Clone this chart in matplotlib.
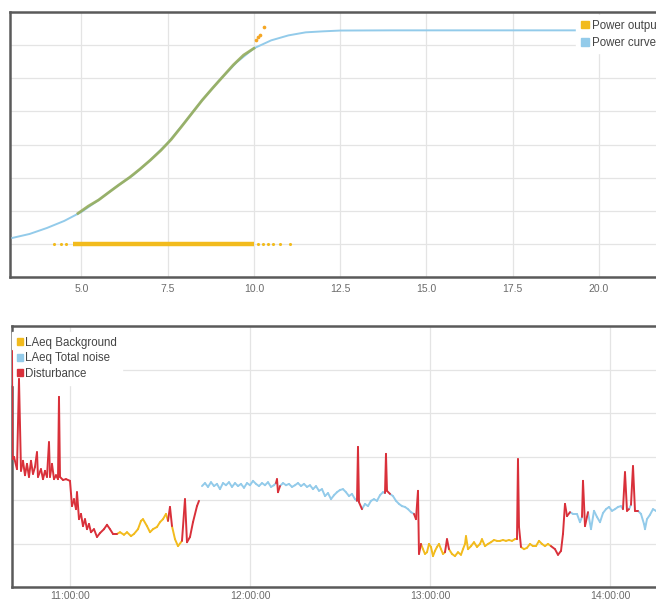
import numpy as np
import matplotlib
matplotlib.use("Agg")
import matplotlib.pyplot as plt
from matplotlib.collections import LineCollection
from matplotlib.patches import Patch

plt.rcParams['font.family'] = ['Liberation Sans', 'DejaVu Sans']

# ---------------- top chart: power curve ----------------
curve_speed = [3.0, 3.5, 4.0, 4.5, 5.0, 5.5, 6.0, 6.5, 7.0, 7.5, 8.0, 8.5, 9.0, 9.5,
               10.0, 10.5, 11.0, 11.5, 12.0, 12.5, 14.0, 16.0, 18.0, 20.0, 22.0]
curve_power = [90, 150, 240, 346, 482, 663, 858, 1039, 1265, 1521, 1837, 2169, 2470, 2741,
               2952, 3072, 3147, 3193, 3208, 3220, 3223, 3223, 3223, 3223, 3223]

output_speed = [4.9, 5.2, 5.5, 5.8, 6.1, 6.4, 6.7, 7.0, 7.3, 7.6, 7.9, 8.2, 8.5, 8.8,
                9.1, 9.4, 9.7, 10.0]
output_power = [460, 570, 663, 780, 895, 1005, 1130, 1265, 1410, 1575, 1770, 1970, 2169, 2350,
                2525, 2700, 2850, 2952]
peak_speed = [10.05, 10.12, 10.18, 10.3]
peak_power = [3080, 3130, 3160, 3270]
zero_band = [4.75, 10.0]
zero_speed = [4.2, 4.4, 4.55, 10.12, 10.27, 10.41, 10.56, 10.76, 11.05]

speed_ticks = [5.0, 7.5, 10.0, 12.5, 15.0, 17.5, 20.0]

# ---------------- bottom chart: noise (time in minutes after 10:00) ----------------
# state: D = Disturbance, B = LAeq Background, T = LAeq Total noise
noise_minutes = [
    40.67, 40.83, 41.33, 42.33, 43.0, 43.67, 44.33, 45.0, 45.67, 46.33, 47.0, 47.67, 48.33, 49.0,
    49.33, 50.33, 51.0, 51.67, 52.33, 53.0, 53.33, 54.0, 54.67, 55.33, 56.0, 56.33, 56.67, 57.67,
    58.67, 60.0, 60.67, 61.33, 62.0, 62.33, 63.0, 63.67, 64.33, 65.0, 65.67, 66.33, 67.0, 68.0,
    69.0, 70.0, 71.33, 72.33, 73.33, 74.33,
    75.67, 76.67, 78.0, 79.0, 80.33, 81.33, 82.67, 83.67, 84.33, 85.67, 86.67, 87.67, 89.0, 90.0,
    91.0, 92.0, 92.67, 93.33, 94.0, 95.0, 96.0, 97.33, 98.33, 99.0, 100.0, 101.0, 102.33, 103.0,
    103.5,
    104.0, 105.0, 106.0, 107.0, 108.0, 109.0, 110.0, 111.0, 112.0, 113.0, 114.0, 115.0, 116.0,
    117.0, 118.0, 119.0, 120.0, 121.0, 122.0, 123.0, 124.0, 125.0, 126.0, 127.0, 128.0, 128.67,
    129.0, 129.33, 130.0, 131.0, 132.0, 133.0, 134.0, 135.0, 136.0, 137.0, 138.0, 139.0, 140.0,
    141.0, 142.0, 143.0, 144.0, 145.0, 146.0, 147.0, 148.0, 149.0, 150.0, 151.0, 152.0, 153.0,
    154.0, 155.0, 155.67, 156.0, 156.33, 157.33, 158.33, 159.33, 160.33, 161.33, 162.33, 163.33,
    164.33, 165.0, 165.33, 165.67, 166.67, 167.67, 168.67, 169.67, 170.67, 171.67, 172.67, 173.67,
    174.67, 175.33, 176.0, 176.33,
    177.0, 177.67, 178.33, 179.0, 179.67, 180.33, 181.0, 181.67, 182.33, 183.0, 183.67, 184.33,
    185.0, 185.67, 186.33, 187.33, 188.33, 189.33, 190.33, 191.0, 191.67, 192.0, 192.67, 193.67,
    194.67, 195.67, 196.67, 197.33, 198.33, 199.33, 200.33, 201.33, 202.33, 203.33, 204.33, 205.33,
    206.33, 207.33, 208.33, 209.0, 209.33, 209.67, 210.33, 211.33, 212.33, 213.33, 214.33, 215.33,
    216.33, 217.33, 218.33, 219.33, 220.33, 221.67, 222.67, 223.67, 224.33, 225.0, 225.67,
    226.67, 227.67, 229.0, 230.0, 230.67, 231.0, 231.67, 232.67, 233.67, 234.67, 235.67, 236.67,
    237.67, 238.67, 239.67, 240.67, 241.67, 242.67, 243.67, 244.33, 245.0, 245.67, 246.33, 247.0,
    247.67, 248.33, 249.33, 250.33, 251.33, 251.67, 252.33, 253.33, 254.33, 255.33, 256.67,
]
noise_level = [
    84.3, 59.4, 59.9, 57.1, 77.8, 56.7, 59.0, 55.7, 58.3, 55.3, 59.0, 56.0, 57.6, 61.0,
    55.3, 57.1, 54.8, 56.7, 55.3, 63.3, 55.3, 58.3, 54.8, 55.7, 54.8, 73.7, 55.3, 54.6,
    54.8, 54.4, 48.6, 50.2, 47.9, 51.8, 45.6, 46.8, 44.0, 45.6, 43.3, 44.5, 42.6, 43.3,
    41.5, 42.4, 43.3, 44.3, 43.3, 42.2,
    42.2, 42.6, 42.0, 42.6, 41.7, 42.2, 43.3, 45.2, 45.6, 44.0, 42.6, 43.3, 43.8, 44.9,
    45.6, 46.8, 45.2, 48.4, 44.0, 41.0, 39.4, 40.6, 50.2, 40.3, 41.5, 44.9, 48.6, 49.8,
    np.nan,
    53.2, 53.9, 53.0, 54.1, 53.2, 53.7, 52.5, 53.9, 53.4, 54.1, 53.0, 53.9, 53.2,
    53.7, 52.8, 53.9, 53.4, 54.4, 53.7, 53.2, 53.9, 53.4, 54.1, 53.0, 53.4, 53.9,
    54.8, 51.8, 53.2, 53.9, 53.4, 53.7, 53.0, 53.4, 53.9, 53.2, 53.7, 53.0, 53.4,
    52.5, 53.2, 52.1, 52.5, 50.9, 51.6, 50.2, 51.1, 51.8, 52.3, 52.5, 51.8, 50.9,
    51.4, 50.2, 49.8, 62.2, 49.5, 47.9, 49.1, 48.6, 49.8, 50.2, 49.8, 51.1,
    51.8, 51.6, 60.6, 52.1, 51.4, 50.9, 49.8, 49.1, 48.6, 48.4, 47.9, 47.2,
    46.8, 45.6, 52.1, 37.6,
    39.9, 38.7, 37.6, 38.0, 39.9, 39.2, 37.1, 38.3, 39.2, 39.9, 38.7, 37.6,
    38.0, 41.0, 38.7, 37.6, 37.1, 38.0, 37.4, 38.7, 39.9, 41.7, 38.7, 39.4,
    40.3, 39.2, 39.9, 41.0, 39.4, 39.9, 40.3, 40.8, 40.6, 40.6, 40.8, 40.6,
    40.8, 40.6, 41.0, 41.0, 59.4, 43.8, 39.2, 38.7, 39.0, 39.9, 39.4, 39.4,
    40.6, 39.9, 39.4, 39.9, 39.4, 38.7, 37.4, 38.3, 42.2, 49.1, 46.3,
    47.2, 46.8, 46.8, 44.9, 46.1, 54.4, 44.0, 47.2, 43.3, 47.5, 46.1, 44.9,
    47.0, 47.9, 48.4, 47.5, 47.9, 48.4, 48.6, 47.9, 56.4, 47.5, 47.9, 48.9,
    57.8, 47.5, 47.5, 46.8, 44.5, 43.3, 45.6, 46.6, 47.9, 47.5, 47.9,
]
noise_state = (
    "DDDDDDDDDDDDDD" "DDDDDDDDDDDDDD" "DDDDDDDDDDDDDD" "DDDDDD"
    "BBBBBBBBBBBBBB" "BBBDBBBBDDDDDD"
    "T"
    "TTTTTTTTTTTTT" "TTTTTTTTTTTTT" "DDTTTTTTTTTTT" "TTTTTTTTTTTTT" "TTTDDTTTTTTT"
    "TTDDTTTTTTTT" "TDDD"
    "BBBBBBBBBBBB" "BDBBBBBBBBBB" "BBBBBBBBBBBB" "BBBBDDBBBBBB" "BBBBBDDDDDD"
    "TTTTTDDTTTTT" "TTTTTTTTDDTT" "DDTTTTTTTTT"
)
assert len(noise_minutes) == len(noise_level) == len(noise_state)

time_ticks = [60, 120, 180, 240]
time_labels = ["11:00:00", "12:00:00", "13:00:00", "14:00:00"]

YELLOW = "#f2bb1d"
BLUE = "#93cbea"
RED = "#d9303a"
GRID = "#e4e4e4"
FRAME = "#5a5a5a"
TICKC = "#6b6b6b"

W, H = 656, 604
fig = plt.figure(figsize=(W / 100, H / 100), dpi=100)

def style(ax):
    ax.grid(True, color=GRID, lw=0.9)
    ax.set_axisbelow(True)
    for s in ax.spines.values():
        s.set_color(FRAME)
        s.set_linewidth(1.8)
    ax.tick_params(length=0, labelsize=7.5, labelcolor=TICKC, pad=5)
    ax.set_yticklabels([])

# ---- top
ax1 = fig.add_axes([10 / W, 1 - 277 / H, 659 / W, 265 / H])
ax1.set_xlim(2.93, 22.03)
ax1.set_ylim(-500, 3500)
ax1.set_yticks(np.arange(-500, 3501, 500))
ax1.set_xticks(speed_ticks)
ax1.set_xticklabels([f"{v:.1f}" for v in speed_ticks])
style(ax1)

ax1.plot(curve_speed, curve_power, color=BLUE, lw=1.4, zorder=3)
ax1.plot(output_speed, output_power, color="#97ad5c", lw=2.0, alpha=0.9, zorder=4)
ax1.hlines(0, zero_band[0], zero_band[1], color=YELLOW, lw=3.2, zorder=4)
ax1.scatter(zero_speed, [0] * len(zero_speed), s=5, color=YELLOW, zorder=4, lw=0)
ax1.scatter(peak_speed, peak_power, s=7, color="#f5a623", zorder=5, lw=0)

h1 = [Patch(color=YELLOW), Patch(color=BLUE)]
leg1 = ax1.legend(h1, ["Power output", "Power curve"], loc="upper left",
                  bbox_to_anchor=(0.8595, 0.989), borderaxespad=0, frameon=True,
                  fancybox=False, framealpha=1, edgecolor="white", fontsize=8.3,
                  handlelength=0.65, handleheight=0.65, handletextpad=0.3,
                  labelspacing=0.45, borderpad=0.4, labelcolor="#444444")
leg1.set_zorder(10)

# ---- bottom
ax2 = fig.add_axes([12 / W, 1 - 587 / H, 657 / W, 261 / H])
ax2.set_xlim(40.67, 259.67)
ax2.set_ylim(30, 90)
ax2.set_yticks(np.arange(30, 91, 10))
ax2.set_xticks(time_ticks)
ax2.set_xticklabels(time_labels)
style(ax2)
ax2.tick_params(axis="x", pad=3)

colors = {"B": YELLOW, "T": BLUE, "D": RED}
segs = {"B": [], "T": [], "D": []}
for i in range(len(noise_minutes) - 1):
    y0, y1 = noise_level[i], noise_level[i + 1]
    if np.isnan(y0) or np.isnan(y1):
        continue
    s0, s1 = noise_state[i], noise_state[i + 1]
    s = "D" if "D" in (s0, s1) else s1
    segs[s].append([(noise_minutes[i], y0), (noise_minutes[i + 1], y1)])
for s, z in (("T", 3), ("B", 4), ("D", 5)):
    ax2.add_collection(LineCollection(segs[s], colors=colors[s], linewidths=1.4,
                                      capstyle="round", joinstyle="round", zorder=z))

h2 = [Patch(color=YELLOW), Patch(color=BLUE), Patch(color=RED)]
leg2 = ax2.legend(h2, ["LAeq Background", "LAeq Total noise", "Disturbance"], loc="upper left",
                  bbox_to_anchor=(0.0006, 0.977), borderaxespad=0, frameon=True,
                  fancybox=False, framealpha=1, edgecolor="white", fontsize=8.3,
                  handlelength=0.55, handleheight=0.55, handletextpad=0.15,
                  labelspacing=0.32, borderpad=0.4, labelcolor="#444444")
leg2.set_zorder(2.5)

fig.savefig("out.png", dpi=100)
